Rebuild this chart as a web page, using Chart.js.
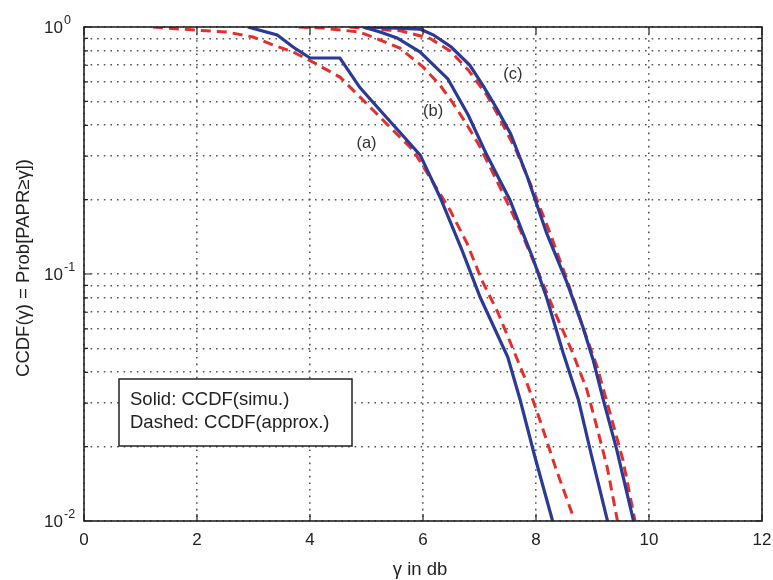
<!DOCTYPE html>
<html>
<head>
<meta charset="utf-8">
<script src="https://cdn.jsdelivr.net/npm/chart.js@4"></script>
<style>html,body{margin:0;padding:0;background:#fff}</style>
</head>
<body>
<canvas id="grafica" width="773" height="580"></canvas>
<script>
// ── Datos ────────────────────────────────────────────────────────────────────
// (a) simulada / aproximada
const SIM_A_X = [2.9, 3.42, 3.7, 4.0, 4.53, 4.88, 5.24, 5.59, 5.95, 6.3, 6.69, 7.01, 7.5, 7.72, 7.98, 8.31];
const SIM_A_Y = [1.0, 0.928, 0.83, 0.749, 0.749, 0.57, 0.46, 0.375, 0.303, 0.205, 0.125, 0.0807, 0.0461, 0.0309, 0.0182, 0.0097];
const APX_A_X = [1.22, 2.0, 2.53, 2.99, 3.35, 3.7, 4.05, 4.53, 5.12, 5.29, 5.82, 6.12, 6.48, 6.78, 7.04, 7.33, 7.58, 7.84, 8.07, 8.34, 8.66];
const APX_A_Y = [1.0, 0.97, 0.954, 0.911, 0.845, 0.792, 0.721, 0.627, 0.46, 0.42, 0.318, 0.247, 0.181, 0.133, 0.0945, 0.0695, 0.0505, 0.0362, 0.0256, 0.0166, 0.0104];
// (b)
const SIM_B_X = [4.94, 5.24, 5.54, 5.95, 6.44, 6.8, 7.13, 7.54, 7.77, 7.95, 8.19, 8.48, 8.75, 8.98, 9.28];
const SIM_B_Y = [1.0, 0.954, 0.903, 0.792, 0.616, 0.44, 0.303, 0.199, 0.146, 0.115, 0.08, 0.048, 0.031, 0.0185, 0.0097];
const APX_B_X = [3.8, 4.23, 4.88, 5.24, 5.59, 6.0, 6.3, 6.53, 6.78, 7.01, 7.36, 7.72, 8.02, 8.34, 8.65, 8.9, 9.08, 9.26, 9.45];
const APX_B_Y = [1.0, 0.99, 0.954, 0.886, 0.822, 0.689, 0.582, 0.492, 0.401, 0.327, 0.225, 0.151, 0.104, 0.0695, 0.0479, 0.034, 0.0239, 0.0165, 0.0098];
// (c)
const SIM_C_X = [5.0, 5.95, 6.18, 6.5, 6.83, 7.06, 7.3, 7.55, 7.84, 8.19, 8.55, 8.83, 9.01, 9.19, 9.43, 9.74];
const SIM_C_Y = [1.0, 0.98, 0.93, 0.83, 0.70, 0.58, 0.47, 0.37, 0.25, 0.146, 0.092, 0.061, 0.045, 0.031, 0.0194, 0.0097];
const APX_C_X = [4.7, 5.6, 6.12, 6.48, 6.8, 7.13, 7.35, 7.66, 7.98, 8.25, 8.55, 8.83, 9.08, 9.31, 9.54, 9.76];
const APX_C_Y = [1.0, 0.965, 0.9, 0.8, 0.67, 0.53, 0.43, 0.312, 0.21, 0.146, 0.0945, 0.0609, 0.0422, 0.0274, 0.0176, 0.0098];

// ejes
const X_TICKS = [0, 2, 4, 6, 8, 10, 12];
const Y_MAJOR = [1, 0.1, 0.01];
const Y_EXP   = ['0', '-1', '-2'];
const Y_GRID  = [0.01,0.02,0.03,0.04,0.05,0.06,0.07,0.08,0.09,0.1,0.2,0.3,0.4,0.5,0.6,0.7,0.8,0.9,1];

// etiquetas de curva
const CURVE_TAGS = ['(a)', '(b)', '(c)'];
const TAG_X = [5.0, 6.18, 7.59];
const TAG_Y = [0.339, 0.453, 0.64];

const blue = '#2b3a96';
const red  = '#e4302c';
const pares = (xs, ys) => xs.map((x, i) => ({x: x, y: ys[i]}));
const fuente = (px) => px + 'px "Liberation Sans", Arial, sans-serif';

// ── Dibujo de marco, ticks y textos ─────────────────────────────────────────
const ejesMatlab = { id: 'ejesMatlab', afterDraw(chart) {
    const {ctx, chartArea: a, scales} = chart;
    const sx = scales.x, sy = scales.y;
    ctx.save();

    // ticks hacia dentro
    ctx.strokeStyle = '#222'; ctx.lineWidth = 1.2;
    ctx.beginPath();
    X_TICKS.forEach(v => {
        const px = sx.getPixelForValue(v);
        ctx.moveTo(px, a.bottom); ctx.lineTo(px, a.bottom - 7);
        ctx.moveTo(px, a.top);    ctx.lineTo(px, a.top + 7);
    });
    Y_GRID.forEach(v => {
        const py = sy.getPixelForValue(v);
        const len = Y_MAJOR.includes(v) ? 7 : 4;
        ctx.moveTo(a.left, py);  ctx.lineTo(a.left + len, py);
        ctx.moveTo(a.right, py); ctx.lineTo(a.right - len, py);
    });
    ctx.stroke();

    // marco
    ctx.lineWidth = 1.6;
    ctx.strokeRect(a.left, a.top, a.right - a.left, a.bottom - a.top);

    // etiquetas eje y: 10^k
    ctx.fillStyle = '#222';
    Y_MAJOR.forEach((v, i) => {
        const py = sy.getPixelForValue(v);
        ctx.font = fuente(17); ctx.textAlign = 'right'; ctx.textBaseline = 'middle';
        ctx.fillText('10', a.left - 21, py + 1);
        ctx.font = fuente(12.5); ctx.textAlign = 'left'; ctx.textBaseline = 'alphabetic';
        ctx.fillText(Y_EXP[i], a.left - 20, py - 3);
    });

    // etiquetas eje x
    ctx.font = fuente(17); ctx.textAlign = 'center'; ctx.textBaseline = 'alphabetic';
    X_TICKS.forEach(v => ctx.fillText(String(v), sx.getPixelForValue(v), a.bottom + 24));

    // títulos
    ctx.font = fuente(18.5);
    ctx.fillText('γ in db', (a.left + a.right) / 2 - 3, a.bottom + 54);
    ctx.save();
    ctx.translate(24, 268); ctx.rotate(-Math.PI / 2);
    ctx.textBaseline = 'middle';
    ctx.fillText('CCDF(γ) = Prob[PAPR≥γ])', 0, 0);
    ctx.restore();

    // (a) (b) (c)
    ctx.font = fuente(16.5); ctx.fillStyle = '#333'; ctx.textBaseline = 'middle';
    CURVE_TAGS.forEach((t, i) => ctx.fillText(t, sx.getPixelForValue(TAG_X[i]), sy.getPixelForValue(TAG_Y[i])));

    // cuadro de leyenda
    const bx = a.left + 35, by = a.top + 352, bw = 233, bh = 67;
    ctx.fillStyle = '#fff'; ctx.fillRect(bx, by, bw, bh);
    ctx.strokeStyle = '#222'; ctx.lineWidth = 1.5; ctx.strokeRect(bx, by, bw, bh);
    ctx.fillStyle = '#222'; ctx.font = fuente(18.5); ctx.textAlign = 'left'; ctx.textBaseline = 'alphabetic';
    ctx.fillText('Solid: CCDF(simu.)', bx + 11, by + 26);
    ctx.fillText('Dashed: CCDF(approx.)', bx + 11, by + 49);

    ctx.restore();
}};

const rejilla = { color: '#555', lineWidth: 1.6, drawTicks: false };

new Chart(document.getElementById('grafica'), {
    type: 'line',
    data: { datasets: [
        { data: pares(SIM_A_X, SIM_A_Y), borderColor: blue, borderWidth: 3.2 },
        { data: pares(SIM_B_X, SIM_B_Y), borderColor: blue, borderWidth: 3.2 },
        { data: pares(SIM_C_X, SIM_C_Y), borderColor: blue, borderWidth: 3.2 },
        { data: pares(APX_A_X, APX_A_Y), borderColor: red, borderWidth: 3, borderDash: [10, 6] },
        { data: pares(APX_B_X, APX_B_Y), borderColor: red, borderWidth: 3, borderDash: [10, 6] },
        { data: pares(APX_C_X, APX_C_Y), borderColor: red, borderWidth: 3, borderDash: [10, 6] }
    ]},
    options: {
        responsive: false, animation: false,
        layout: { padding: { top: 27, right: 11, left: 0, bottom: 0 } },
        elements: { point: { radius: 0 }, line: { tension: 0 } },
        plugins: { legend: { display: false }, tooltip: { enabled: false } },
        scales: {
            x: {
                type: 'linear', min: 0, max: 12,
                ticks: { display: false, stepSize: 2 },
                grid: rejilla,
                border: { display: false, dash: [1.6, 5] },
                afterFit: s => { s.height = 59; }
            },
            y: {
                type: 'logarithmic', min: 0.01, max: 1,
                ticks: { display: false },
                afterBuildTicks: s => { s.ticks = Y_GRID.map(v => ({ value: v })); },
                grid: rejilla,
                border: { display: false, dash: [1.6, 5] },
                afterFit: s => { s.width = 84; }
            }
        }
    },
    plugins: [ejesMatlab]
});
</script>
</body>
</html>
